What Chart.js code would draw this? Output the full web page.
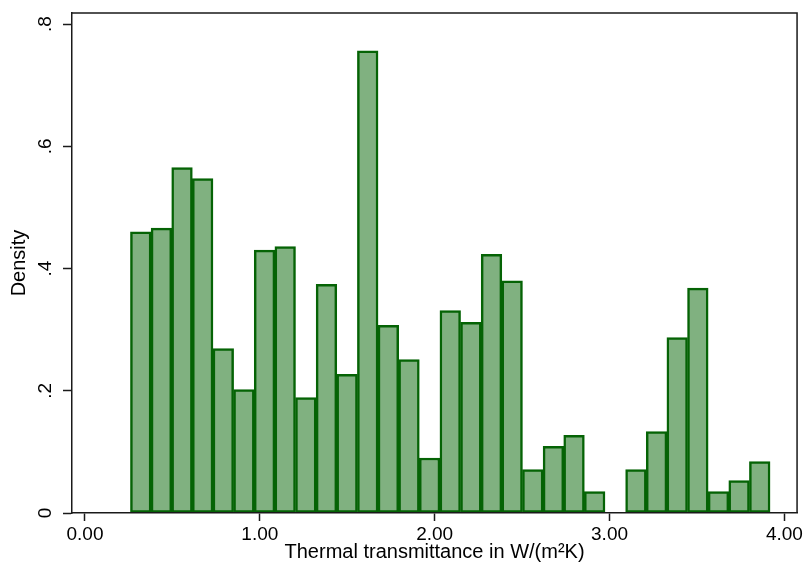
<!DOCTYPE html>
<html lang="en">
<head>
<meta charset="UTF-8">
<title>Thermal transmittance histogram</title>
<script src="https://cdn.jsdelivr.net/npm/chart.js"></script>
<style>
    body { margin: 0; background: #fff; }
    .chart-container { width: 805px; height: 565px; }
</style>
</head>
<body>

<div class="chart-container">
    <canvas id="histChart" width="805" height="565"></canvas>
</div>

<script>
    // Histogram bins: start and width of the bins, density per bin
    const binStart = 0.26;
    const binWidth = 0.118;
    const density = [
        0.460, 0.466, 0.565, 0.547, 0.269, 0.202, 0.430, 0.436, 0.189, 0.374,
        0.227, 0.756, 0.307, 0.251, 0.090, 0.331, 0.312, 0.423, 0.380, 0.071,
        0.109, 0.127, 0.035, null, 0.071, 0.133, 0.287, 0.368, 0.035, 0.053,
        0.084
    ];

    const xTickValues = [0, 1, 2, 3, 4];
    const xTickLabels = ['0.00', '1.00', '2.00', '3.00', '4.00'];
    const yTickValues = [0, 0.2, 0.4, 0.6, 0.8];
    const yTickLabels = ['0', '.2', '.4', '.6', '.8'];
    const xTitle = 'Thermal transmittance in W/(m\u00B2K)';
    const yTitle = 'Density';

    const fontFamily = '"Liberation Sans", Arial, sans-serif';
    const axisColor = '#1a1a1a';

    const points = density.map((d, i) => ({ x: binStart + (i + 0.5) * binWidth, y: d }));

    // top/right frame of the plot region and the rotated y tick labels
    const frameAndYLabels = {
        id: 'frameAndYLabels',
        afterDraw(chart) {
            const { ctx, chartArea: a, scales: { y } } = chart;
            ctx.save();
            ctx.strokeStyle = axisColor;
            ctx.lineWidth = 1.5;
            ctx.beginPath();
            ctx.moveTo(a.left, a.top);
            ctx.lineTo(a.right, a.top);
            ctx.lineTo(a.right, a.bottom);
            ctx.stroke();

            ctx.fillStyle = '#000';
            ctx.font = '19px ' + fontFamily;
            ctx.textAlign = 'center';
            ctx.textBaseline = 'alphabetic';
            yTickValues.forEach((v, i) => {
                ctx.save();
                ctx.translate(a.left - 21, y.getPixelForValue(v));
                ctx.rotate(-Math.PI / 2);
                ctx.fillText(yTickLabels[i], 0, 0);
                ctx.restore();
            });
            ctx.restore();
        }
    };

    new Chart(document.getElementById('histChart').getContext('2d'), {
        type: 'bar',
        data: {
            datasets: [{
                label: yTitle,
                data: points,
                backgroundColor: '#80b180',
                borderColor: '#056305',
                borderWidth: 2.5,
                borderSkipped: false,
                barPercentage: 1.0,
                categoryPercentage: 1.0
            }]
        },
        options: {
            responsive: false,
            animation: false,
            layout: { padding: { top: 13, right: 7, left: 0, bottom: 0 } },
            plugins: {
                legend: { display: false },
                tooltip: { enabled: false }
            },
            scales: {
                x: {
                    type: 'linear',
                    offset: false,
                    min: -0.0743,
                    max: 4.0725,
                    afterBuildTicks: s => { s.ticks = xTickValues.map(v => ({ value: v })); },
                    afterFit: s => { s.height = 52; },
                    grid: { offset: false, drawOnChartArea: false, drawTicks: true, tickLength: 8, tickColor: axisColor, tickWidth: 1.5 },
                    border: { display: true, color: axisColor, width: 1.5, z: 1 },
                    ticks: {
                        padding: 2,
                        maxRotation: 0,
                        color: '#000',
                        font: { family: fontFamily, size: 19 },
                        callback: v => xTickLabels[xTickValues.indexOf(v)]
                    },
                    title: {
                        display: true,
                        text: xTitle,
                        color: '#000',
                        font: { family: fontFamily, size: 20 },
                        padding: { top: 0, bottom: 1 }
                    }
                },
                y: {
                    min: 0,
                    max: 0.818,
                    afterBuildTicks: s => { s.ticks = yTickValues.map(v => ({ value: v })); },
                    afterFit: s => { s.width = 72; },
                    grid: { drawOnChartArea: false, drawTicks: true, tickLength: 9, tickColor: axisColor, tickWidth: 1.5 },
                    border: { display: true, color: axisColor, width: 1.5, z: 1 },
                    ticks: { display: false },
                    title: {
                        display: true,
                        text: yTitle,
                        color: '#000',
                        font: { family: fontFamily, size: 20 },
                        padding: { top: 7, bottom: 0 }
                    }
                }
            }
        },
        plugins: [frameAndYLabels]
    });
</script>
</body>
</html>
